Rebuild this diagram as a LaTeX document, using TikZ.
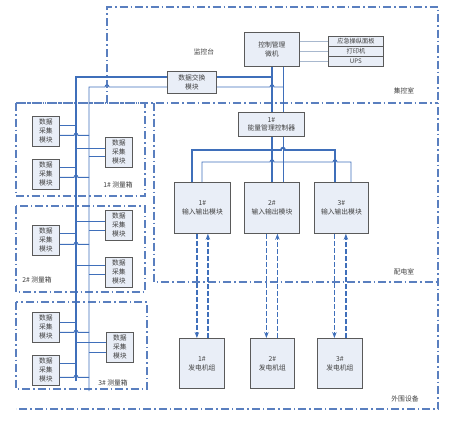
\documentclass[tikz,border=0pt]{standalone}
\usepackage{fontspec}
\newfontfamily\cjk{Noto Sans CJK SC}
\usetikzlibrary{calc,arrows.meta}
\definecolor{zoneblue}{HTML}{5A7FBF}
\definecolor{busblue}{HTML}{3F6FBA}
\definecolor{boxfill}{HTML}{E9EEF7}
\definecolor{boxline}{HTML}{5A5A5A}
\definecolor{txt}{HTML}{404040}
\definecolor{sideline}{HTML}{A8B8CE}
\begin{document}
\begin{tikzpicture}[x=1pt,y=-1pt,
 zone/.style={draw=zoneblue,line width=1.2pt,dash pattern=on 8pt off 3pt on 1.5pt off 3pt},
 box/.style={draw=boxline,fill=boxfill,line width=0.8pt,inner sep=0pt,align=center,text=txt,anchor=north west,font=\cjk\fontsize{6.8}{9}\selectfont},
 dmod/.style={box,minimum width=27pt,minimum height=30pt},
 bus/.style={draw=busblue,line width=1.8pt},
 tbus/.style={draw=busblue,line width=0.9pt},
 side/.style={draw=sideline,line width=1pt},
 lbl/.style={text=txt,font=\cjk\fontsize{6.8}{8}\selectfont,inner sep=0pt},
 darr/.style={draw=busblue,line width=1.2pt,dash pattern=on 5pt off 2pt,-{Stealth[length=6pt,width=4.5pt]}},
 hopat/.style={insert path={-- ($(#1)+(-2,0)$) .. controls +(0,-3) and +(0,-3) .. ($(#1)+(2,0)$)}}]
\useasboundingbox (0,0) rectangle (456,437);

% zones
\draw[zone] (107,103) -- (107,7) -- (438,7) -- (438,409) -- (16,409);
\draw[zone] (16,103) -- (438,103);
\draw[zone] (154,103) -- (154,282) -- (438,282);
\draw[zone] (16,103) rectangle (145,196);
\draw[zone] (16,206) rectangle (145,292);
\draw[zone] (16,302) rectangle (147,389);

% labels
\node[lbl] (l1) at (204,52) {监控台};
\node[lbl] (l2) at (404,91) {集控室};
\node[lbl] (l3) at (404,272) {配电室};
\node[lbl] (l4) at (405,399) {外围设备};
\node[lbl] (l5) at (118,185) {1\# 测量箱};
\node[lbl] (l6) at (37,280) {2\# 测量箱};
\node[lbl] (l7) at (113,383) {3\# 测量箱};

% top boxes
\node[box,minimum width=55pt,minimum height=34pt] (ctrl) at (244,32) {控制管理\\微机};
\node[box,minimum width=55pt,minimum height=10pt,font=\cjk\fontsize{6.2}{7}\selectfont] (emerg) at (328,36) {应急操纵面板};
\node[box,minimum width=55pt,minimum height=10pt,font=\cjk\fontsize{6.2}{7}\selectfont] (prn) at (328,46) {打印机};
\node[box,minimum width=55pt,minimum height=10pt,font=\cjk\fontsize{6.2}{7}\selectfont] (ups) at (328,56) {UPS};
\node[box,minimum width=49pt,minimum height=22pt] (dex) at (167,71) {数据交换\\模块};
\node[box,minimum width=66pt,minimum height=24pt,font=\cjk\fontsize{6.8}{8}\selectfont] (emc) at (238,112) {1\#\\能量管理控制器};
\node[box,minimum width=56pt,minimum height=51pt] (io1) at (174,182) {1\#\\输入输出模块};
\node[box,minimum width=55pt,minimum height=51pt] (io2) at (244,182) {2\#\\输入输出模块};
\node[box,minimum width=54pt,minimum height=51pt] (io3) at (314,182) {3\#\\输入输出模块};
\node[box,minimum width=45pt,minimum height=50pt] (g1) at (179,338) {1\#\\发电机组};
\node[box,minimum width=44pt,minimum height=50pt] (g2) at (250,338) {2\#\\发电机组};
\node[box,minimum width=45pt,minimum height=50pt] (g3) at (317,338) {3\#\\发电机组};

% data acquisition modules
\node[dmod] (a1) at (32,116) {数据\\采集\\模块};
\node[dmod] (a2) at (32,159) {数据\\采集\\模块};
\node[dmod] (a3) at (105,137) {数据\\采集\\模块};
\node[dmod] (b1) at (32,225) {数据\\采集\\模块};
\node[dmod] (b2) at (105,210) {数据\\采集\\模块};
\node[dmod] (b3) at (105,257) {数据\\采集\\模块};
\node[dmod] (c1) at (32,312) {数据\\采集\\模块};
\node[dmod] (c2) at (32,355) {数据\\采集\\模块};
\node[dmod] (c3) at (106,332) {数据\\采集\\模块};

% bus coordinates
\coordinate (bA) at (76,77);
\coordinate (bAe) at (76,381);
\coordinate (bB) at (89,87);
\coordinate (bBe) at (89,391);
\coordinate (zL) at (107,7);
\coordinate (vA) at (272,77);
\coordinate (vB) at (283,87);
\coordinate (k1) at (192,150);
\coordinate (k3) at (335,150);
\coordinate (t1) at (202,162);
\coordinate (t3) at (351,162);

% main buses
\draw[bus] (bAe) -- (bA) -- (bA -| dex.west);
\draw[tbus] (bBe) -- (bB) [hopat={bB -| zL}] -- (bB -| dex.west);
\draw[bus] (bA -| dex.east) -- (vA);
\draw[tbus] (bB -| dex.east) [hopat={vB -| vA}] -- (vB);
\draw[bus] (ctrl.south -| vA) -- (emc.north -| vA);
\draw[tbus] (ctrl.south -| vB) -- (emc.north -| vB);
\draw[bus] (emc.south -| vA) -- (io2.north -| vA);
\draw[tbus] (emc.south -| vB) -- (io2.north -| vB);
\draw[bus] (io1.north -| k1) -- (k1) [hopat={k1 -| vB}] -- (k3) -- (io3.north -| k3);
\draw[tbus] (io1.north -| t1) -- (t1) [hopat={t1 -| vA}] [hopat={t1 -| k3}] -- (t3) -- (io3.north -| t3);

% side links
\draw[side] (ctrl.east |- emerg.west) -- (emerg.west);
\draw[side] (ctrl.east |- prn.west) -- (prn.west);
\draw[side] (ctrl.east |- ups.west) -- (ups.west);

% dashed arrows
\draw[darr] ([xshift=-5.5pt]io1.south) -- ([xshift=-5.5pt]io1.south |- g1.north);
\draw[darr] ([xshift=5.5pt]io1.south |- g1.north) -- ([xshift=5.5pt]io1.south);
\draw[darr] ([xshift=-5.5pt]io2.south) -- ([xshift=-5.5pt]io2.south |- g2.north);
\draw[darr] ([xshift=5.5pt]io2.south |- g2.north) -- ([xshift=5.5pt]io2.south);
\draw[darr] ([xshift=-7pt]io3.south) -- ([xshift=-7pt]io3.south |- g3.north);
\draw[darr] ([xshift=4.5pt]io3.south |- g3.north) -- ([xshift=4.5pt]io3.south);

% left modules (thick to A, thin hops over A to B)
\foreach \m/\u/\d in {a1/6/-4, a2/7/-3, b1/7/-4, c1/5/-5, c2/7/-7}{
  \draw[bus] ([yshift=\u pt]\m.east) -- ([yshift=\u pt]\m.east -| bA);
  \draw[tbus] ([yshift=\d pt]\m.east) [hopat={[yshift=\d pt]\m.east -| bA}] -- ([yshift=\d pt]\m.east -| bB);
}
% right modules
\foreach \m/\u/\d in {a3/4/-4, b2/4/-5, b3/7/-2, c3/5/-5}{
  \draw[bus] ([yshift=\u pt]\m.west -| bA) -- ([yshift=\u pt]\m.west);
  \draw[tbus] ([yshift=\d pt]\m.west -| bB) -- ([yshift=\d pt]\m.west);
}
\end{tikzpicture}
\end{document}
